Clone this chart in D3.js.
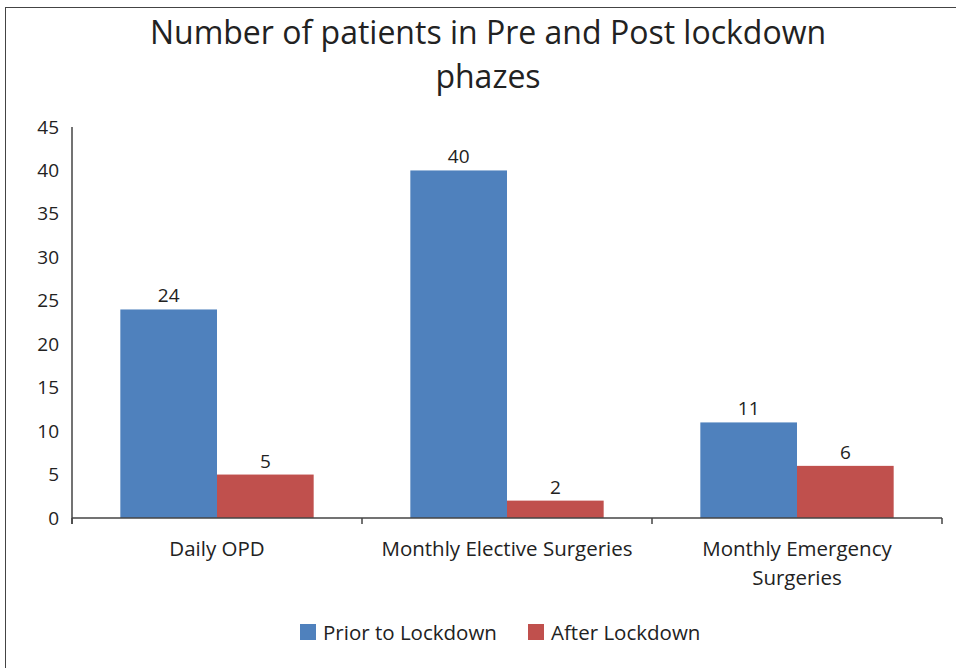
<!DOCTYPE html>
<html>
<head>
<meta charset="utf-8">
<script src="https://cdn.jsdelivr.net/npm/d3@7"></script>
<style>
  body { margin: 0; background: #fff; }
  text { font-family: "Open Sans", "Noto Sans", sans-serif; fill: #222; }
</style>
</head>
<body>
<div id="svg-container"></div>
<script>
// data
var categories = ["Daily OPD", "Monthly Elective Surgeries", "Monthly Emergency Surgeries"];
var catLines = [["Daily OPD"], ["Monthly Elective Surgeries"], ["Monthly Emergency", "Surgeries"]];
var seriesNames = ["Prior to Lockdown", "After Lockdown"];
var priorValues = [24, 40, 11];
var afterValues = [5, 2, 6];
var yTicks = [0, 5, 10, 15, 20, 25, 30, 35, 40, 45];
var colors = ["#4F81BD", "#C0504D"];

var W = 956, H = 668;
var svg = d3.select("#svg-container").append("svg")
    .attr("width", W).attr("height", H);

// outer frame (only top and left edges are inside the window)
svg.append("rect")
  .attr("x", 5.5).attr("y", 7.5)
  .attr("width", 1000).attr("height", 1000)
  .attr("fill", "none").attr("stroke", "#444").attr("stroke-width", 1);

// title
var title = svg.append("text")
  .attr("x", 488).attr("text-anchor", "middle")
  .style("font-size", "32px");
title.append("tspan").attr("x", 488).attr("y", 44).text("Number of patients in Pre and Post lockdown");
title.append("tspan").attr("x", 488).attr("y", 88).text("phazes");

// scales
var x0 = d3.scaleBand().domain(categories).range([72, 942]).paddingInner(0).paddingOuter(0);
var x1 = d3.scaleBand().domain(seriesNames).range([0, x0.bandwidth()]).paddingInner(0).paddingOuter(0.5);
var y = d3.scaleLinear().domain([0, 45]).range([518, 127]);

var rows = categories.map(function(c, i) {
  return {cat: c, vals: [priorValues[i], afterValues[i]]};
});

// bars
var groups = svg.selectAll(".grp").data(rows).enter().append("g")
  .attr("transform", function(d) { return "translate(" + x0(d.cat) + ",0)"; });

groups.selectAll("rect")
  .data(function(d) { return d.vals.map(function(v, j) { return {s: seriesNames[j], v: v, j: j}; }); })
  .enter().append("rect")
  .attr("x", function(d) { return x1(d.s); })
  .attr("y", function(d) { return y(d.v); })
  .attr("width", x1.bandwidth())
  .attr("height", function(d) { return y(0) - y(d.v); })
  .attr("fill", function(d) { return colors[d.j]; });

groups.selectAll(".lbl")
  .data(function(d) { return d.vals.map(function(v, j) { return {s: seriesNames[j], v: v}; }); })
  .enter().append("text")
  .attr("x", function(d) { return x1(d.s) + x1.bandwidth() / 2; })
  .attr("y", function(d) { return y(d.v) - 7; })
  .attr("text-anchor", "middle")
  .style("font-size", "19px")
  .text(function(d) { return d.v; });

// y axis
var yAxis = svg.append("g")
  .attr("transform", "translate(72,0)")
  .call(d3.axisLeft(y).tickValues(yTicks).tickSize(0).tickPadding(13));
yAxis.select(".domain").attr("stroke", "#444").attr("stroke-width", 1.5).attr("d", "M0,127V524");
yAxis.selectAll("text").style("font-size", "19px").attr("fill", "#222")
  .style("font-family", "'Open Sans', sans-serif");

// x axis
var xAxis = svg.append("g").attr("transform", "translate(0,518)");
xAxis.append("line").attr("x1", 72).attr("x2", 942).attr("y1", 0).attr("y2", 0)
  .attr("stroke", "#444").attr("stroke-width", 1.5);
xAxis.selectAll(".tk").data(categories.concat(["end"])).enter().append("line")
  .attr("x1", function(d, i) { return i < categories.length ? x0(d) : x0.range()[1]; })
  .attr("x2", function(d, i) { return i < categories.length ? x0(d) : x0.range()[1]; })
  .attr("y1", 0).attr("y2", 6)
  .attr("stroke", "#444").attr("stroke-width", 1.5);

var cl = xAxis.selectAll(".cl").data(categories).enter().append("text")
  .attr("text-anchor", "middle")
  .style("font-size", "20.5px");
cl.each(function(d, i) {
  var t = d3.select(this);
  catLines[i].forEach(function(line, k) {
    t.append("tspan").attr("x", x0(d) + x0.bandwidth() / 2).attr("y", 38 + k * 29).text(line);
  });
});

// legend
var legX = [300, 528];
var leg = svg.selectAll(".leg").data(seriesNames).enter().append("g")
  .attr("transform", function(d, i) { return "translate(" + legX[i] + ",624)"; });
leg.append("rect").attr("width", 16).attr("height", 16)
  .attr("fill", function(d, i) { return colors[i]; });
leg.append("text").attr("x", 23).attr("y", 16).style("font-size", "20.5px")
  .text(function(d) { return d; });
</script>
</body>
</html>
